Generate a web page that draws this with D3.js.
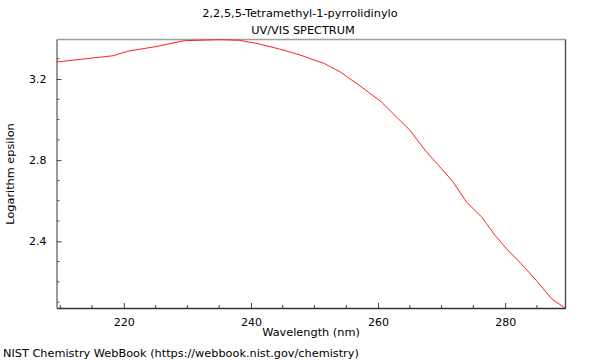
<!DOCTYPE html>
<html>
<head>
<meta charset="utf-8">
<script src="https://cdn.jsdelivr.net/npm/d3@7"></script>
<style>
  body { margin: 0; background: #fff; }
  text { font-family: "DejaVu Sans", sans-serif; fill: #000; }
</style>
</head>
<body>
<svg width="600" height="360"></svg>
<script>
// spectrum
var wavelength = [209.4, 218.3, 220.6, 225, 229.5, 235, 238.2, 241, 244.5, 247.7, 251.5, 254, 257,
                  260.5, 263, 265, 267.4, 269.5, 271.8, 273.9, 276.3, 278.4, 280.2, 282.5, 284.9, 287.3, 289.4];
var logEps = [3.284, 3.315, 3.337, 3.36, 3.389, 3.394, 3.391, 3.375, 3.348, 3.319, 3.277, 3.236, 3.17,
              3.088, 3.01, 2.948, 2.849, 2.775, 2.693, 2.594, 2.52, 2.43, 2.364, 2.29, 2.207, 2.117, 2.071];
var xTicks = [220, 240, 260, 280];
var yTicks = [2.4, 2.8, 3.2];

var margins = {top: 39.5, left: 56.5, right: 34.5, bottom: 52};
var width = 600 - margins.left - margins.right;
var height = 360 - margins.top - margins.bottom;

const svg = d3.select("svg");

var x = d3.scaleLinear().domain([209.4, 289.5]).range([0, width]);
var y = d3.scaleLinear().domain([2.071, 3.395]).range([height, 0]);

var g = svg.append('g')
    .attr('transform', "translate(" + margins.left + "," + margins.top + ")");

// frame: top and right
g.append('line').attr('x1', 0).attr('x2', width).attr('y1', 0).attr('y2', 0)
    .attr('stroke', '#a0a0a0').attr('stroke-width', 1.5);
g.append('line').attr('x1', width).attr('x2', width).attr('y1', 0).attr('y2', height)
    .attr('stroke', '#555').attr('stroke-width', 1.5);

// minor ticks (inside)
var xMinor = d3.range(210, 290, 5).filter(v => xTicks.indexOf(v) < 0);
g.selectAll('.xminor').data(xMinor).join('line')
    .attr('x1', d => x(d)).attr('x2', d => x(d))
    .attr('y1', height).attr('y2', height - 3)
    .attr('stroke', '#444');
var yMinor = d3.range(2.1, 3.35, 0.1).map(v => Math.round(v * 10) / 10).filter(v => yTicks.indexOf(v) < 0);
g.selectAll('.yminor').data(yMinor).join('line')
    .attr('x1', 0).attr('x2', 3)
    .attr('y1', d => y(d)).attr('y2', d => y(d))
    .attr('stroke', '#444');

var xAxis = g.append('g')
    .attr('transform', "translate(0," + height + ")")
    .call(d3.axisBottom(x).tickValues(xTicks).tickSizeInner(-5).tickSizeOuter(0).tickPadding(10));
var yAxis = g.append('g')
    .call(d3.axisLeft(y).tickValues(yTicks).tickFormat(d3.format('.1f')).tickSizeInner(-5).tickSizeOuter(0).tickPadding(10));

xAxis.select('.domain').attr('stroke', '#333').attr('stroke-width', 1.5);
yAxis.select('.domain').attr('stroke', '#777').attr('stroke-width', 1.5);
[xAxis, yAxis].forEach(a => {
    a.selectAll('.tick line').attr('stroke', '#444');
    a.selectAll('.tick text').attr('font-size', 11).attr('font-family', 'DejaVu Sans').attr('fill', '#000');
});

var line = d3.line().x((d, i) => x(wavelength[i])).y(d => y(d));
g.append('path')
    .datum(logEps)
    .attr('d', line)
    .attr('fill', 'none')
    .attr('stroke', '#ff2020')
    .attr('stroke-width', 1);

// titles
svg.append('text').attr('x', 300).attr('y', 17).attr('text-anchor', 'middle')
    .attr('font-size', 11.3).text('2,2,5,5-Tetramethyl-1-pyrrolidinylo');
svg.append('text').attr('x', 303).attr('y', 34).attr('text-anchor', 'middle')
    .attr('font-size', 11.3).text('UV/VIS SPECTRUM');
svg.append('text').attr('x', margins.left + width / 2).attr('y', 336).attr('text-anchor', 'middle')
    .attr('font-size', 11.3).text('Wavelength (nm)');
svg.append('text').attr('transform', 'translate(14,174) rotate(-90)').attr('text-anchor', 'middle')
    .attr('font-size', 11.3).text('Logarithm epsilon');
svg.append('text').attr('x', 3).attr('y', 357)
    .attr('font-size', 11.3).text('NIST Chemistry WebBook (https://webbook.nist.gov/chemistry)');
</script>
</body>
</html>
